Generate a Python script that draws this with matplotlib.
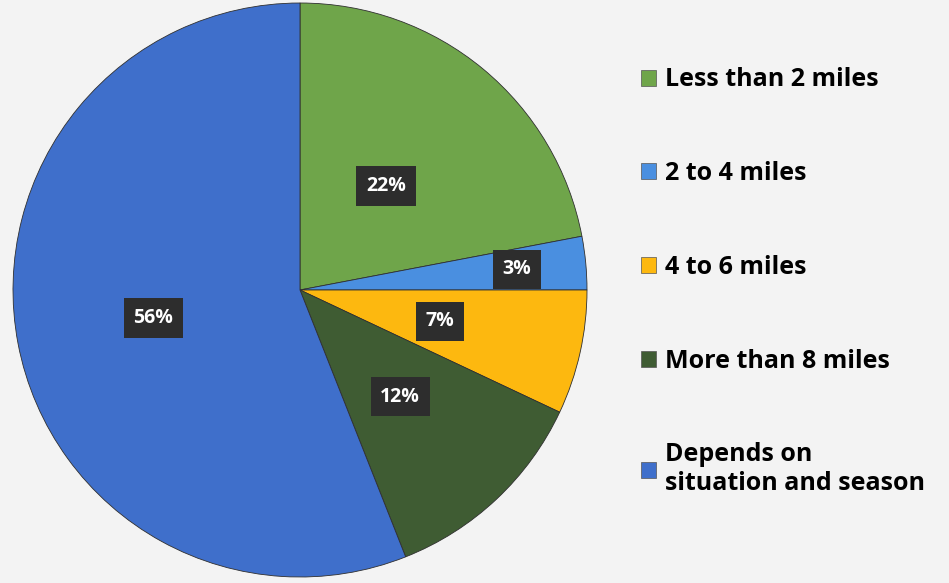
#!/usr/bin/env python3

import matplotlib
matplotlib.use('Agg')
import matplotlib.pyplot as plt
import numpy as np
from matplotlib.patches import Patch

categories = ['Less than 2 miles', '2 to 4 miles', '4 to 6 miles',
              'More than 8 miles', 'Depends on\nsituation and season']
shares = [22, 3, 7, 12, 56]
colors = ['#6fa54a', '#4a8fe0', '#fdb80f', '#3f5c33', '#3f6fcb']
label_dist = [0.47, 0.76, 0.5, 0.51, 0.52]

plt.rcParams['font.family'] = ['Open Sans', 'DejaVu Sans']


def main():
    fig = plt.figure(figsize=(9.49, 5.83), dpi=100)
    fig.patch.set_facecolor('#f3f3f3')

    ax = fig.add_axes([13 / 949, 6 / 583, 574 / 949, 574 / 583])
    wedges, _ = ax.pie(shares, colors=colors, startangle=90, counterclock=False,
                       wedgeprops=dict(linewidth=0.6, edgecolor='#2f2f2f'))
    ax.set_xlim(-1, 1)
    ax.set_ylim(-1, 1)
    ax.set_aspect('equal')

    for w, s, d in zip(wedges, shares, label_dist):
        ang = np.deg2rad((w.theta1 + w.theta2) / 2)
        ax.text(d * np.cos(ang), d * np.sin(ang), '{}%'.format(s),
                ha='center', va='center', color='white', fontsize=14,
                fontweight='bold',
                bbox=dict(boxstyle='square,pad=0.5', facecolor='#2d2d2d',
                          edgecolor='none'))

    handles = [Patch(facecolor=c, edgecolor='#555555', linewidth=0.5)
               for c in colors]
    fig.legend(handles, categories, loc='upper left',
               bbox_to_anchor=(0.652, 0.923), frameon=False,
               prop=dict(size=18, weight='bold'), labelspacing=2.75,
               handlelength=0.6, handleheight=0.6, handletextpad=0.35)

    fig.savefig('out.png', dpi=100, facecolor=fig.get_facecolor())


if __name__ == '__main__':
    main()
